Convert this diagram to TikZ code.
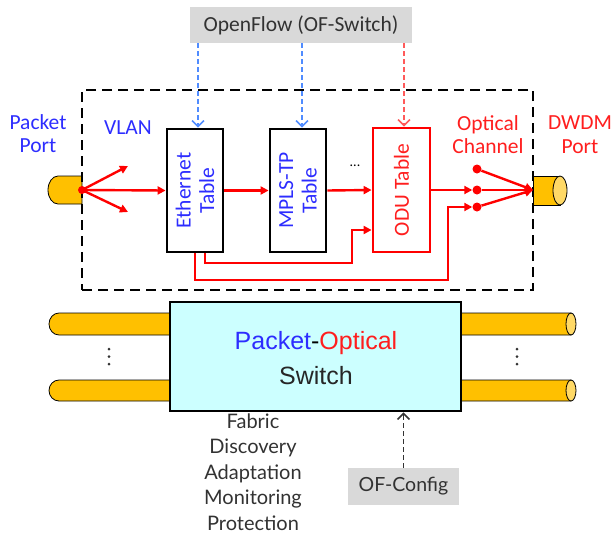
\documentclass[tikz,border=0pt]{standalone}
\usepackage{fontspec}
\setmainfont{Carlito}
\newfontfamily\arialf{Liberation Sans}
\newfontfamily\gillf{Lato}
\usetikzlibrary{arrows.meta}
\definecolor{tblue}{RGB}{45,45,255}
\definecolor{tred}{RGB}{255,30,30}
\definecolor{lred}{RGB}{255,0,0}
\definecolor{dblue}{RGB}{80,140,255}
\definecolor{dred}{RGB}{255,90,90}
\definecolor{pipeorange}{RGB}{255,192,0}
\definecolor{pipecap}{RGB}{255,217,102}
\definecolor{cyanfill}{RGB}{204,255,255}
\definecolor{graybox}{RGB}{217,217,217}
\definecolor{graytext}{RGB}{50,50,50}
\begin{document}
\begin{tikzpicture}[x=1pt,y=-1pt,
  lbl/.style={font=\fontsize{21.5}{23.5}\selectfont, align=center, inner sep=0pt},
  tablebox/.style={draw, line width=2.8pt, minimum width=56pt, minimum height=123pt, inner sep=0pt},
  graylabel/.style={fill=graybox, text=graytext, inner sep=0pt},
  redline/.style={draw=lred, line width=2.4pt},
  redarrow/.style={redline, -{Triangle[length=8pt,width=8pt]}},
  ctrl/.style={dash pattern=on 5pt off 3pt, line width=1.5pt, -{Straight Barb[length=6pt,width=12pt]}},
  pipe/.style={draw=black, line width=0.8pt, fill=pipeorange},
  capfill/.style={draw=black, line width=0.8pt, fill=pipecap},
  rdot/.style={circle, fill=lred, inner sep=0pt, minimum size=9pt},
  vdot/.style={circle, fill=black!80, inner sep=0pt, minimum size=3pt}
]
\useasboundingbox (0,0) rectangle (611,536);

% bottom pipes
\draw[pipe] (571,313) -- (59,313) arc[start angle=270,end angle=90,x radius=10,y radius=11] -- (571,335) -- cycle;
\draw[capfill] (571,324) ellipse [x radius=5, y radius=11];
\draw[pipe] (571,380) -- (59,380) arc[start angle=270,end angle=90,x radius=10,y radius=10.5] -- (571,401) -- cycle;
\draw[capfill] (571,390.5) ellipse [x radius=5, y radius=10.5];
\foreach \yy in {349,356.5,364} {
  \node[vdot] at (109,\yy) {};
  \node[vdot] at (517,\yy) {};
}

% switch
\node[draw, line width=2.8pt, fill=cyanfill, minimum width=291pt, minimum height=109pt] (sw) at (315.5,356.5) {};
\node[font=\arialf\fontsize{25}{28}\selectfont, inner sep=0pt] (swt1) at (316,343) {\textcolor{tblue}{Packet}-\textcolor{tred}{Optical}};
\node[font=\arialf\fontsize{25}{28}\selectfont, inner sep=0pt, text=black!85] (swt2) at (316,376) {Switch};

% ports
\draw[pipe] (82,176) -- (58,176) arc[start angle=270,end angle=90,x radius=10,y radius=14] -- (82,204) -- cycle;
\draw[pipe] (533,176) -- (560,176) -- (560,205) -- (533,205) -- cycle;
\draw[capfill] (560,190.5) ellipse [x radius=7, y radius=14.5];

% dashed frame
\node[draw, dash pattern=on 10pt off 6pt, line width=2.8pt, minimum width=451pt, minimum height=200pt, inner sep=0pt] (frame) at (307.5,190) {};

% openflow
\node[graylabel, font=\fontsize{21.5}{23}\selectfont, minimum width=222pt, minimum height=36pt] (of) at (301,25) {OpenFlow (OF-Switch)};

% tables
\node[tablebox, fill=white] (eth) at (195,190.5) {};
\node[lbl, rotate=90, text=tblue] (etht) at (eth.center) {Ethernet\\Table};
\node[tablebox, fill=white] (mpls) at (298,190.5) {};
\node[lbl, rotate=90, text=tblue] (mplst) at (mpls.center) {MPLS-TP\\Table};
\node[tablebox, draw=lred, fill=white, minimum width=57pt, minimum height=124pt] (odu) at (401.5,190) {};
\node[lbl, rotate=90, text=tred] (odut) at (odu.center) {ODU Table};
\node[font=\fontsize{14}{14}\selectfont] (ell) at (355,166) {...};

% labels
\node[lbl, text=tblue] (ppl) at (38,133.5) {Packet\\Port};
\node[lbl, text=tblue] (vlan) at (128,128) {VLAN};
\node[lbl, text=tred] (och) at (488,134.5) {Optical\\Channel};
\node[lbl, text=tred] (dwl) at (580,134.5) {DWDM\\Port};

% control arrows
\draw[ctrl, draw=dblue] (of.south -| 198,0) -- ([xshift=3pt]eth.north);
\draw[ctrl, draw=dblue] (of.south -| 302,0) -- ([xshift=4pt]mpls.north);
\draw[ctrl, draw=dred] (of.south -| 404,0) -- ([xshift=2.5pt]odu.north);

% packet port fan
\coordinate (src) at (82,190);
\coordinate (f1) at (128,166);
\coordinate (f2) at (128,212);
\draw[redarrow] (src) -- (eth.west);
\draw[redarrow] (src) -- (f1);
\draw[redarrow] (src) -- (f2);
\fill[lred] (src) circle (4pt);

% table chain
\draw[redarrow] (eth.east) -- (mpls.west);
\draw[redarrow] (mpls.east) -- (odu.west);
\draw[redarrow] ([xshift=10pt]eth.south) -- (205,263) -- (352,263) -- (352,230) -- (odu.west |- 0,230);

% optical channels
\node[rdot] (d1) at (477,169) {};
\node[rdot] (d2) at (477,190) {};
\node[rdot] (d3) at (477,207) {};
\coordinate (dw) at (533,190);
\draw[redarrow] (odu.east) -- (d2);
\draw[redarrow] (eth.south) -- (195,280) -- (448,280) -- (448,207) -- (d3);
\draw[redarrow] (d1) -- (dw);
\draw[redarrow] (d2) -- (dw);
\draw[redarrow] (d3) -- (dw);

% bottom
\node[graylabel, font=\gillf\fontsize{19.5}{22}\selectfont, minimum width=111pt, minimum height=37pt] (ofc) at (403.5,486.5) {OF-Config};
\draw[ctrl, draw=black!80] (ofc.north) -- (sw.south -| ofc.north);
\node[font=\gillf\fontsize{20}{25.5}\selectfont, align=center, text=graytext, inner sep=0pt] (fab) at (253,472) {Fabric\\Discovery\\Adaptation\\Monitoring\\Protection};
\end{tikzpicture}
\end{document}
